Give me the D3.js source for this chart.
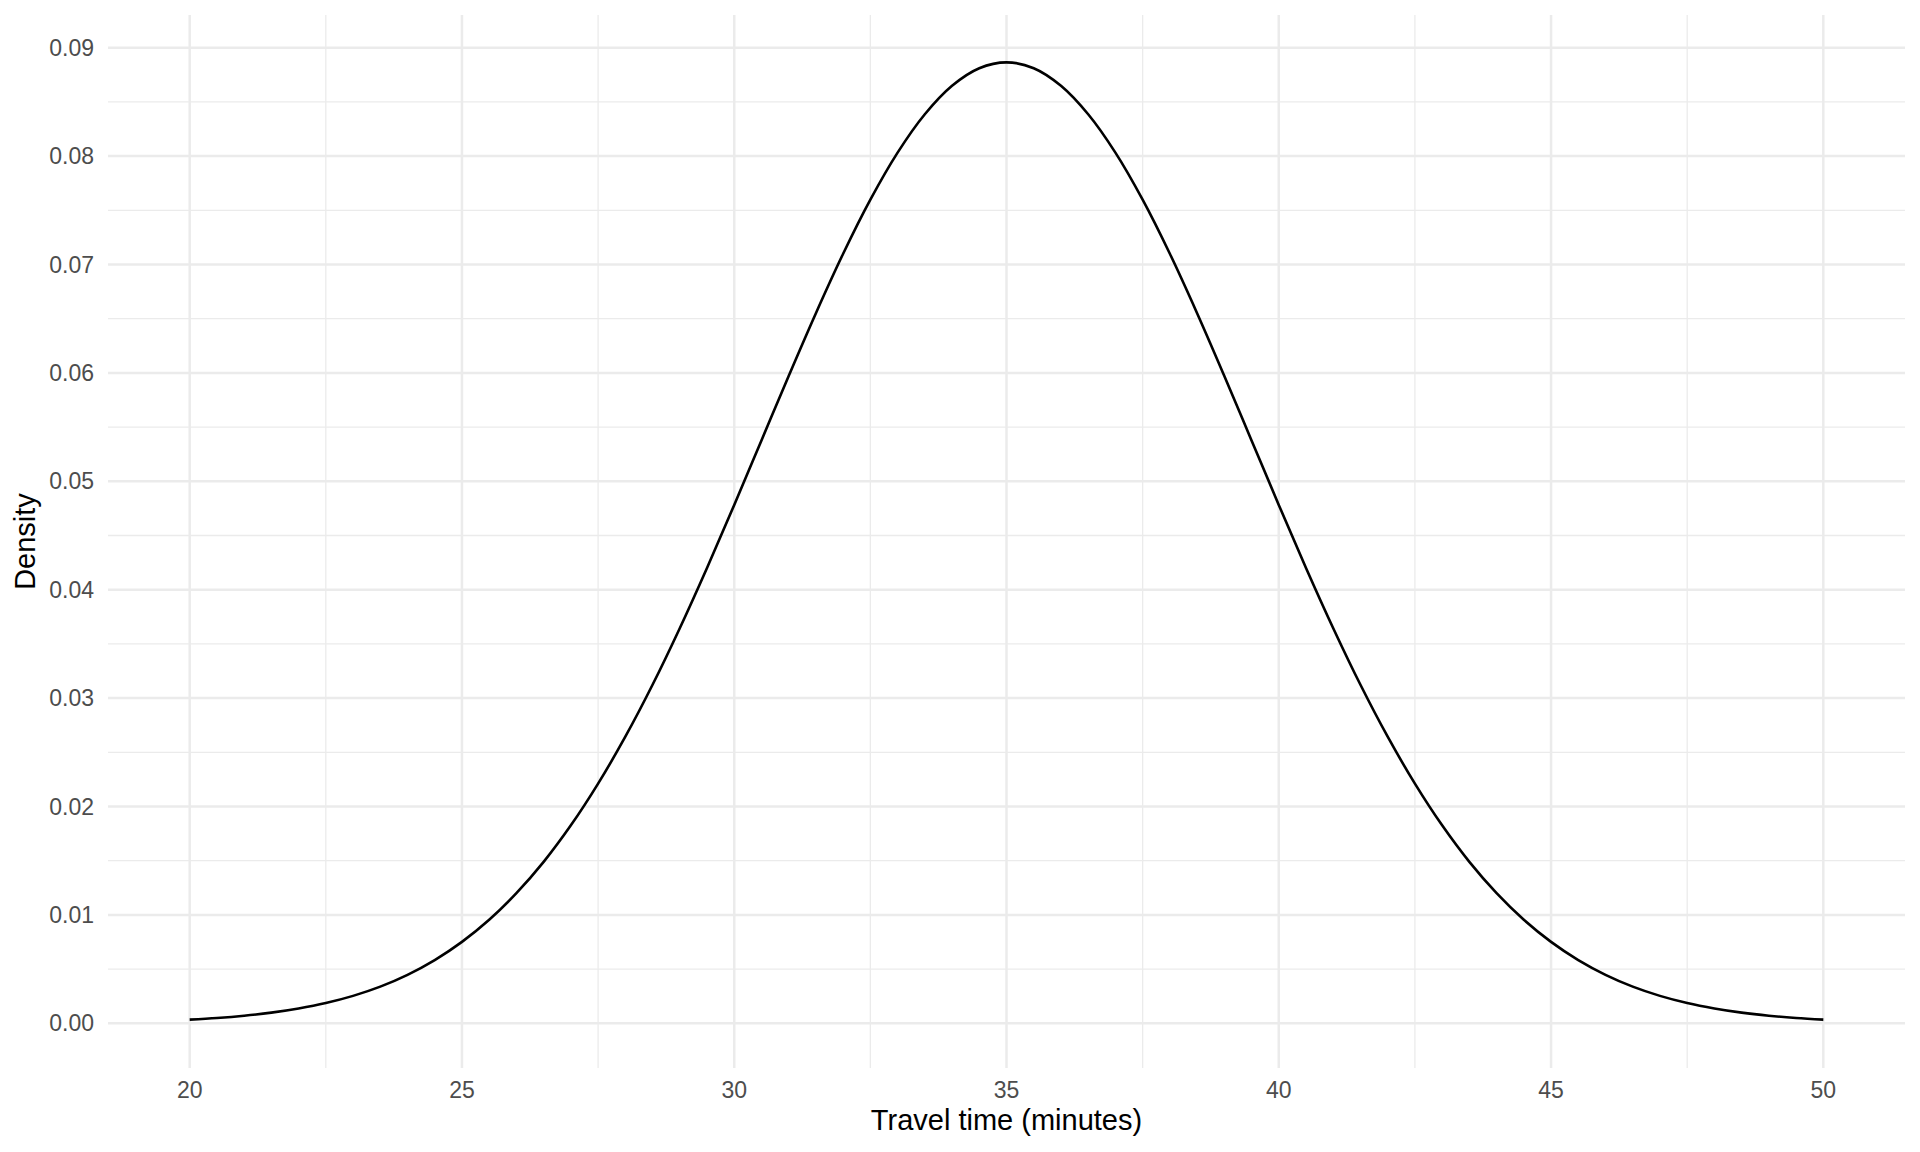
<!DOCTYPE html>
<html>
<head>
<meta charset="utf-8">
<script src="https://cdn.jsdelivr.net/npm/d3@7"></script>
<style>
  html, body { margin: 0; padding: 0; background: #ffffff; }
  svg { display: block; font-family: "Liberation Sans", Arial, sans-serif; }
</style>
</head>
<body>
<svg id="chart" width="1920" height="1152"></svg>
<script>
// Travel time (minutes), every half minute
const travelTime = [20,20.5,21,21.5,22,22.5,23,23.5,24,24.5,25,25.5,26,26.5,27,27.5,28,28.5,29,29.5,30,30.5,31,31.5,32,32.5,33,33.5,34,34.5,35,35.5,36,36.5,37,37.5,38,38.5,39,39.5,40,40.5,41,41.5,42,42.5,43,43.5,44,44.5,45,45.5,46,46.5,47,47.5,48,48.5,49,49.5,50];
// Density
const density = [0.000343,0.000493,0.000701,0.000985,0.00137,0.00187,0.00253,0.00338,0.00447,0.00583,0.00751,0.00955,0.0120,0.01489,0.01826,0.02211,0.02644,0.03123,0.03645,0.04201,0.04782,0.05377,0.05972,0.06551,0.07099,0.07598,0.08032,0.08386,0.08649,0.08811,0.08865,0.08811,0.08649,0.08386,0.08032,0.07598,0.07099,0.06551,0.05972,0.05377,0.04782,0.04201,0.03645,0.03123,0.02644,0.02211,0.01826,0.01489,0.0120,0.00955,0.00751,0.00583,0.00447,0.00338,0.00253,0.00187,0.00137,0.000985,0.000701,0.000493,0.000343];
const xTicks = [20,25,30,35,40,45,50];
const xMinor = [22.5,27.5,32.5,37.5,42.5,47.5];
const yTicks = [0,0.01,0.02,0.03,0.04,0.05,0.06,0.07,0.08,0.09];
const yMinor = [0.005,0.015,0.025,0.035,0.045,0.055,0.065,0.075,0.085];
const xTitle = "Travel time (minutes)";
const yTitle = "Density";

const panel = { left: 108, right: 1905, top: 15, bottom: 1068 };
const svg = d3.select("#chart");

const x = d3.scaleLinear().domain([18.5, 51.5]).range([panel.left, panel.right]);
const y = d3.scaleLinear().domain([0, 0.09]).range([1023.3, 47.7]);

const grid = svg.append("g");
grid.selectAll("line.ymin").data(yMinor).join("line")
  .attr("x1", panel.left).attr("x2", panel.right)
  .attr("y1", d => y(d)).attr("y2", d => y(d))
  .attr("stroke", "#ebebeb").attr("stroke-width", 1.3);
grid.selectAll("line.xmin").data(xMinor).join("line")
  .attr("y1", panel.top).attr("y2", panel.bottom)
  .attr("x1", d => x(d)).attr("x2", d => x(d))
  .attr("stroke", "#ebebeb").attr("stroke-width", 1.3);
grid.selectAll("line.ymaj").data(yTicks).join("line")
  .attr("x1", panel.left).attr("x2", panel.right)
  .attr("y1", d => y(d)).attr("y2", d => y(d))
  .attr("stroke", "#ebebeb").attr("stroke-width", 2.5);
grid.selectAll("line.xmaj").data(xTicks).join("line")
  .attr("y1", panel.top).attr("y2", panel.bottom)
  .attr("x1", d => x(d)).attr("x2", d => x(d))
  .attr("stroke", "#ebebeb").attr("stroke-width", 2.5);

const line = d3.line()
  .x((d, i) => x(travelTime[i]))
  .y(d => y(d))
  .curve(d3.curveCatmullRom);
svg.append("path").datum(density)
  .attr("d", line)
  .attr("fill", "none")
  .attr("stroke", "#000000")
  .attr("stroke-width", 2.6)
  .attr("stroke-linejoin", "round");

svg.append("g").selectAll("text").data(xTicks).join("text")
  .attr("x", d => x(d)).attr("y", 1098)
  .attr("text-anchor", "middle")
  .attr("font-size", 23).attr("fill", "#4d4d4d")
  .text(d => d);

svg.append("g").selectAll("text").data(yTicks).join("text")
  .attr("x", 94).attr("y", d => y(d) + 8)
  .attr("text-anchor", "end")
  .attr("font-size", 23).attr("fill", "#4d4d4d")
  .text(d => d3.format(".2f")(d));

svg.append("text")
  .attr("x", (panel.left + panel.right) / 2).attr("y", 1130)
  .attr("text-anchor", "middle")
  .attr("font-size", 29).attr("fill", "#000000")
  .text(xTitle);

svg.append("text")
  .attr("transform", `translate(35, ${(panel.top + panel.bottom) / 2}) rotate(-90)`)
  .attr("text-anchor", "middle")
  .attr("font-size", 29).attr("fill", "#000000")
  .text(yTitle);
</script>
</body>
</html>
